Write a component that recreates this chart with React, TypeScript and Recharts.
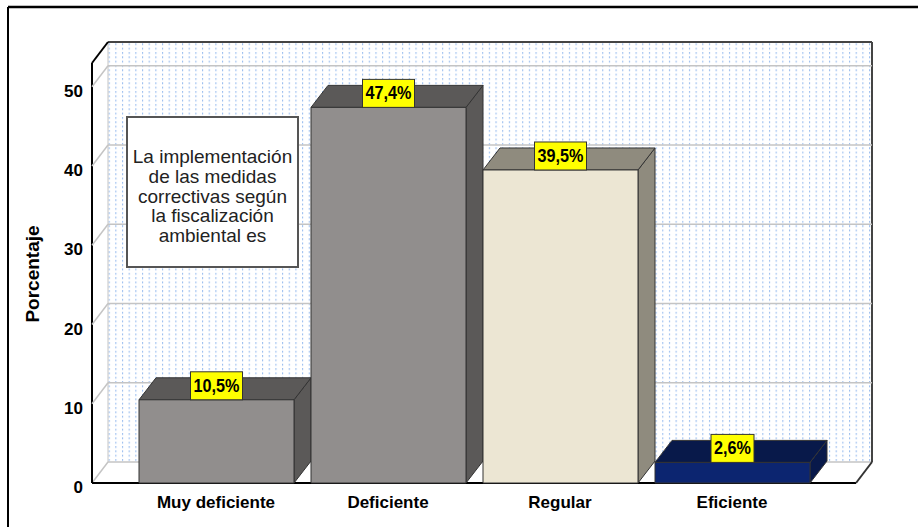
import React from 'react';
import { BarChart, Bar, XAxis, YAxis, ReferenceArea, ReferenceLine, LabelList } from 'recharts';

const categories = ['Muy deficiente', 'Deficiente', 'Regular', 'Eficiente'];
const percentages = [10.5, 47.4, 39.5, 2.6];
const valueLabels = ['10,5%', '47,4%', '39,5%', '2,6%'];
const yTicks = [0, 10, 20, 30, 40, 50];
const gridValues = [10, 20, 30, 40, 50];
const noteLines = ['La implementación', 'de las medidas', 'correctivas según', 'la fiscalización', 'ambiental es'];

const frontColors = ['#918e8d', '#918e8d', '#ece6d3', '#0c2570'];
const sideColors = ['#5b5958', '#5b5958', '#8f8b7e', '#08194a'];

const data = categories.map((name, i) => ({ name, value: percentages[i], label: valueLabels[i] }));

const FONT = '"Liberation Sans", Arial, sans-serif';
// category padding on the x axis; the walls span the whole plot, padding included
const PAD = 38;
// 3D depth of the back wall and of the bars
const WALL_DX = 16;
const WALL_DY = -21;
const BAR_DX = 17;
const BAR_DY = -22;
const GRID = '#c4c4c4';

const Walls = (p: any) => {
  const x = p.x - PAD;
  const width = p.width + 2 * PAD;
  const { y, height } = p;
  const bottom = y + height;
  const right = x + width;
  const bx = x + WALL_DX;
  const by = y + WALL_DY;
  const fb = bottom + WALL_DY;
  return (
    <g>
      <defs>
        <pattern id="wallDots" width={6.67} height={4.33} patternUnits="userSpaceOnUse">
          <rect x={2} y={0} width={1} height={2} fill="#93b8ee" />
        </pattern>
      </defs>
      {/* outer frame */}
      <line x1={8} y1={7} x2={918} y2={7} stroke="#000" strokeWidth={2.5} />
      <line x1={8} y1={7} x2={8} y2={527} stroke="#000" strokeWidth={2} />
      <text
        x={39}
        y={274}
        transform="rotate(-90 39 274)"
        textAnchor="middle"
        fontFamily={FONT}
        fontWeight="bold"
        fontSize={19}
        fill="#000"
      >
        Porcentaje
      </text>
      <rect x={bx} y={by} width={width} height={height} fill="#fff" />
      <rect x={bx} y={by} width={width} height={height} fill="url(#wallDots)" />
      <polygon points={`${x},${bottom} ${bx},${fb} ${right + WALL_DX},${fb} ${right},${bottom}`} fill="#fff" />
      <line x1={bx} y1={by} x2={bx} y2={fb} stroke={GRID} />
      <line x1={bx} y1={fb} x2={right + WALL_DX} y2={fb} stroke={GRID} strokeWidth={1.5} />
      <line x1={x} y1={bottom} x2={bx} y2={fb} stroke={GRID} strokeWidth={1.5} />
      <line x1={bx} y1={by} x2={right + WALL_DX} y2={by} stroke="#444" strokeWidth={2} />
      <line x1={right + WALL_DX} y1={by} x2={right + WALL_DX} y2={fb} stroke="#444" strokeWidth={2} />
      <line x1={x} y1={y} x2={bx} y2={by} stroke="#000" strokeWidth={2} />
      <line x1={x} y1={y} x2={x} y2={bottom} stroke="#000" strokeWidth={2} />
      <line x1={x} y1={bottom} x2={right} y2={bottom} stroke="#000" strokeWidth={2} />
      <line x1={right} y1={bottom} x2={right + WALL_DX} y2={fb} stroke="#333" strokeWidth={2} />
    </g>
  );
};

const GridLine = (p: any) => {
  const { x1, y1, x2 } = p;
  const left = Math.min(x1, x2);
  const right = Math.max(x1, x2);
  return (
    <g>
      <line x1={left} y1={y1} x2={left + WALL_DX} y2={y1 + WALL_DY} stroke={GRID} strokeWidth={1.5} />
      <line x1={left + WALL_DX} y1={y1 + WALL_DY} x2={right + WALL_DX} y2={y1 + WALL_DY} stroke={GRID} strokeWidth={1.5} />
    </g>
  );
};

const NoteBox = () => (
  <g>
    <rect x={127} y={117} width={171} height={150} fill="#fff" stroke="#555" strokeWidth={2} />
    {noteLines.map((t, i) => (
      <text key={t} x={212.5} y={163 + i * 19.75} textAnchor="middle" fontFamily={FONT} fontSize={19} fill="#222">
        {t}
      </text>
    ))}
  </g>
);

const Box3D = (p: any) => {
  const { x, y, width, height, index } = p;
  const f = frontColors[index];
  const s = sideColors[index];
  const r = x + width;
  const b = y + height;
  const top = `${x},${y} ${x + BAR_DX},${y + BAR_DY} ${r + BAR_DX},${y + BAR_DY} ${r},${y}`;
  const side = `${r},${y} ${r + BAR_DX},${y + BAR_DY} ${r + BAR_DX},${b + BAR_DY} ${r},${b}`;
  return (
    <g stroke="#333" strokeWidth={1} strokeLinejoin="round">
      <polygon points={side} fill={s} />
      <polygon points={top} fill={s} />
      <rect x={x} y={y} width={width} height={height} fill={f} />
    </g>
  );
};

const ValueTag = (p: any) => {
  const { x, y, width, value } = p;
  const cx = x + width / 2;
  const w = String(value).length * 9 + 7;
  return (
    <g>
      <rect x={cx - w / 2} y={y - 28} width={w} height={28} fill="#ffff00" stroke="#333" strokeWidth={1} />
      <text
        x={cx}
        y={y - 8}
        textAnchor="middle"
        fontFamily={FONT}
        fontWeight="bold"
        fontSize={18}
        fill="#000"
        transform={`translate(${cx} 0) scale(0.9 1) translate(${-cx} 0)`}
      >
        {value}
      </text>
    </g>
  );
};

const XTick = (p: any) => (
  <text x={p.x} y={p.y} dy={17} textAnchor="middle" fontFamily={FONT} fontWeight="bold" fontSize={17} fill="#000">
    {p.payload.value}
  </text>
);

const YTick = (p: any) => (
  <text x={p.x} y={p.y} dy={10} textAnchor="end" fontFamily={FONT} fontWeight="bold" fontSize={17} fill="#000">
    {p.payload.value}
  </text>
);

export default function App() {
  return (
    <div style={{ position: 'absolute', left: 0, top: 0, width: 918, height: 527, background: '#fff' }}>
      <BarChart width={918} height={527} data={data} margin={{ top: 63, right: 62, bottom: 14, left: 32 }} barSize={155}>
        <ReferenceArea y1={0} y2={53} shape={<Walls />} zIndex={-300} />
        {gridValues.map((v) => (
          <ReferenceLine key={v} y={v} shape={<GridLine />} zIndex={-200} />
        ))}
        <ReferenceArea y1={0} y2={53} shape={<NoteBox />} zIndex={-100} />
        <XAxis
          dataKey="name"
          padding={{ left: PAD, right: PAD }}
          axisLine={false}
          tickLine={false}
          tickSize={6}
          tickMargin={2}
          height={30}
          tick={<XTick />}
        />
        <YAxis
          domain={[0, 53]}
          ticks={yTicks}
          axisLine={false}
          tickLine={false}
          tickSize={6}
          tickMargin={3}
          width={60}
          tick={<YTick />}
        />
        <Bar dataKey="value" shape={<Box3D />} isAnimationActive={false}>
          <LabelList dataKey="label" content={<ValueTag />} />
        </Bar>
      </BarChart>
    </div>
  );
}
